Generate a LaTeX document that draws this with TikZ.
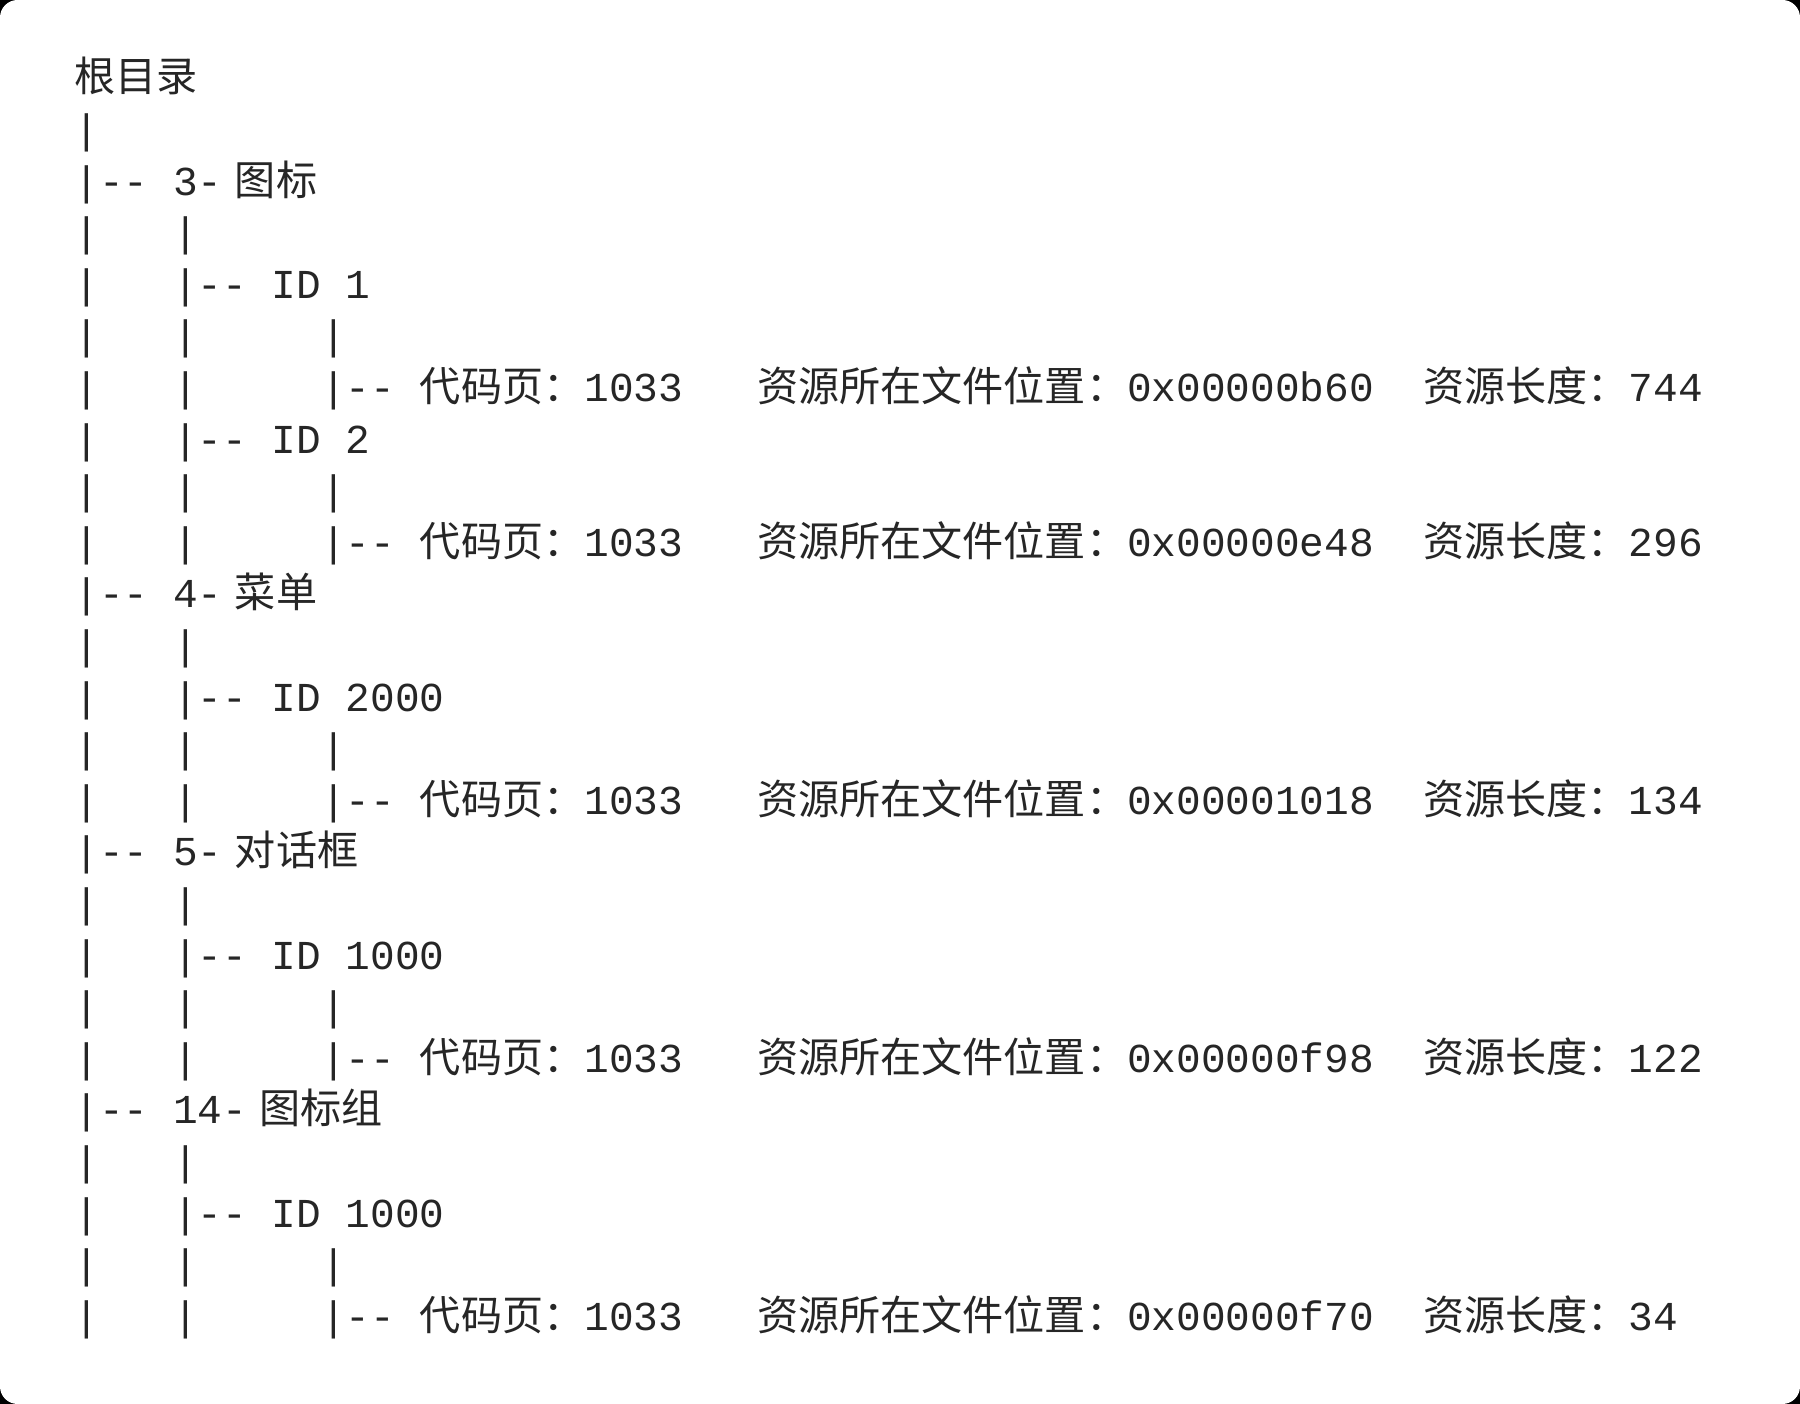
\documentclass[tikz,border=0pt]{standalone}
\usepackage{fontspec}
\newfontfamily\mono{Liberation Mono}
\newfontfamily\cjk{Noto Sans CJK SC}
\newcommand{\zh}[1]{{\cjk #1}}
\newcommand{\sk}[1]{\hspace*{#1\dimexpr.6em\relax}}
\newcommand{\tg}{\hspace*{.3em}}

\begin{document}
\begin{tikzpicture}[x=1cm,y=1cm,
    row/.style={anchor=base west,inner sep=0pt,outer sep=0pt,text=black!85,
      font=\fontsize{11.7}{14}\selectfont\mono}]
        \fill[black] (0,0) rectangle (18,-14.04);
        \fill[white,rounded corners=5pt] (0,0) rectangle (18,-14.04);
        % tree, one text row per line
        \node[row] (root) at (0.745,-0.920) {\zh{根目录}};
        \node[row] (r2)   at (0.745,-1.436) {|};
        \node[row] (k3)   at (0.745,-1.952) {|-- 3-\tg\zh{图标}};
        \node[row] (r4)   at (0.745,-2.468) {|\sk3|};
        \node[row] (i1)   at (0.745,-2.984) {|\sk3|-- ID 1};
        \node[row] (r6)   at (0.745,-3.500) {|\sk3|\sk5|};
        \node[row] (p1)   at (0.745,-4.016) {|\sk3|\sk5|-- \zh{代码页：}1033\sk3\zh{资源所在文件位置：}0x00000b60\sk2\zh{资源长度：}744};
        \node[row] (i2)   at (0.745,-4.532) {|\sk3|-- ID 2};
        \node[row] (r9)   at (0.745,-5.048) {|\sk3|\sk5|};
        \node[row] (p2)   at (0.745,-5.564) {|\sk3|\sk5|-- \zh{代码页：}1033\sk3\zh{资源所在文件位置：}0x00000e48\sk2\zh{资源长度：}296};
        \node[row] (k4)   at (0.745,-6.080) {|-- 4-\tg\zh{菜单}};
        \node[row] (r12)  at (0.745,-6.596) {|\sk3|};
        \node[row] (i3)   at (0.745,-7.112) {|\sk3|-- ID 2000};
        \node[row] (r14)  at (0.745,-7.628) {|\sk3|\sk5|};
        \node[row] (p3)   at (0.745,-8.144) {|\sk3|\sk5|-- \zh{代码页：}1033\sk3\zh{资源所在文件位置：}0x00001018\sk2\zh{资源长度：}134};
        \node[row] (k5)   at (0.745,-8.660) {|-- 5-\tg\zh{对话框}};
        \node[row] (r17)  at (0.745,-9.176) {|\sk3|};
        \node[row] (i4)   at (0.745,-9.692) {|\sk3|-- ID 1000};
        \node[row] (r19)  at (0.745,-10.208) {|\sk3|\sk5|};
        \node[row] (p4)   at (0.745,-10.724) {|\sk3|\sk5|-- \zh{代码页：}1033\sk3\zh{资源所在文件位置：}0x00000f98\sk2\zh{资源长度：}122};
        \node[row] (k14)  at (0.745,-11.240) {|-- 14-\tg\zh{图标组}};
        \node[row] (r22)  at (0.745,-11.756) {|\sk3|};
        \node[row] (i5)   at (0.745,-12.272) {|\sk3|-- ID 1000};
        \node[row] (r24)  at (0.745,-12.788) {|\sk3|\sk5|};
        \node[row] (p5)   at (0.745,-13.304) {|\sk3|\sk5|-- \zh{代码页：}1033\sk3\zh{资源所在文件位置：}0x00000f70\sk2\zh{资源长度：}34};
    \end{tikzpicture}
\end{document}
